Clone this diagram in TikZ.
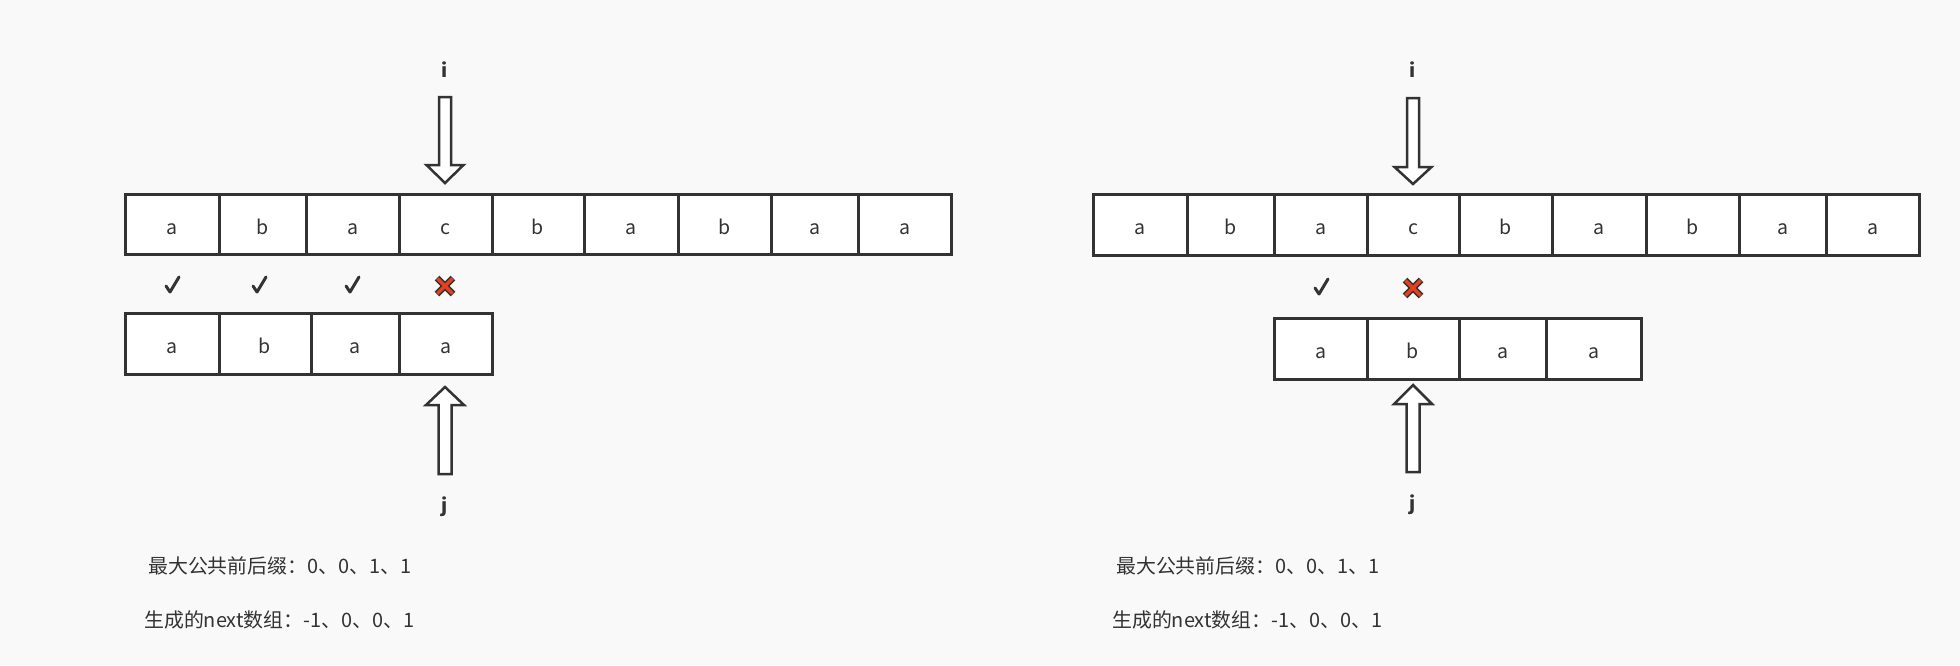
\documentclass[tikz,border=0pt]{standalone}
\usepackage{fontspec}
\setmainfont{Noto Sans CJK SC}
\definecolor{bg}{HTML}{F9F9F9}
\definecolor{ink}{HTML}{333333}
\definecolor{xred}{HTML}{E8401C}
\begin{document}
\begin{tikzpicture}[x=1pt,y=-1pt,
  cell/.style={draw=ink,fill=white,line width=3pt,inner sep=0pt,text=ink,text height=20pt,text depth=0pt,font=\fontsize{19.5}{19.5}\selectfont},
  lbl/.style={text=ink,font=\bfseries\fontsize{19}{19}\selectfont,inner sep=0pt},
  note/.style={text=ink,font=\fontsize{19.9}{19.9}\selectfont,inner sep=0pt,anchor=west},
  blockarrow/.style={draw=ink,fill=white,line width=2.5pt,line join=miter},
  chk/.pic={\draw[ink,line width=3pt,line cap=round,line join=round] (-6,1) -- (-2,7) -- (7,-8);},
  crs/.pic={\draw[ink,line width=6.5pt] (-8,-8) -- (8,8) (-8,8) -- (8,-8);
            \draw[xred,line width=3.5pt] (-7.5,-7.5) -- (7.5,7.5) (-7.5,7.5) -- (7.5,-7.5);}
]
\fill[bg] (0,0) rectangle (1960,665);
\useasboundingbox (0,0) rectangle (1960,665);

% ---------- helper: cell from left/right/top/bottom ----------
\def\cellat#1#2#3#4#5#6{% name, left, right, top, bottom, text
  \node[cell,minimum width={#3-#2},minimum height={#5-#4}] (#1) at ({(#2+#3)/2},{(#4+#5)/2}) {#6};}

% ================= LEFT PANEL =================
\cellat{LT1}{125}{219}{194}{254}{a}
\cellat{LT2}{219}{306}{194}{254}{b}
\cellat{LT3}{306}{399}{194}{254}{a}
\cellat{LT4}{399}{492}{194}{254}{c}
\cellat{LT5}{492}{584}{194}{254}{b}
\cellat{LT6}{584}{678}{194}{254}{a}
\cellat{LT7}{678}{771}{194}{254}{b}
\cellat{LT8}{771}{858}{194}{254}{a}
\cellat{LT9}{858}{951}{194}{254}{a}

\cellat{LB1}{125}{219}{313}{374}{a}
\cellat{LB2}{219}{311}{313}{374}{b}
\cellat{LB3}{311}{399}{313}{374}{a}
\cellat{LB4}{399}{492}{313}{374}{a}

\pic at (172,285) {chk};
\pic at (259,285) {chk};
\pic at (352,285) {chk};
\pic at (445,286) {crs};

\node[lbl] (Li) at (445,70) {i};
\node[lbl] (Lj) at (445,507) {j};

% down arrow i
\coordinate (Lda) at (445,97);
\draw[blockarrow] ([xshift=-6]Lda) -- ++(0,68) -- ++(-12.5,0) -- ++(18.5,18) -- ++(18.5,-18) -- ++(-12.5,0) -- ++(0,-68) -- cycle;
% up arrow j
\coordinate (Lua) at (445,474);
\draw[blockarrow] ([xshift=-6.5]Lua) -- ++(0,-69) -- ++(-12.5,0) -- ++(19,-18) -- ++(19,18) -- ++(-12.5,0) -- ++(0,69) -- cycle;

\node[note] (Ln1) at (148,566) {最大公共前后缀：0、0、1、1};
\node[note] (Ln2) at (144,620) {生成的next数组：-1、0、0、1};

% ================= RIGHT PANEL =================
\cellat{RT1}{1093}{1187}{194}{255}{a}
\cellat{RT2}{1187}{1274}{194}{255}{b}
\cellat{RT3}{1274}{1367}{194}{255}{a}
\cellat{RT4}{1367}{1459}{194}{255}{c}
\cellat{RT5}{1459}{1552}{194}{255}{b}
\cellat{RT6}{1552}{1646}{194}{255}{a}
\cellat{RT7}{1646}{1739}{194}{255}{b}
\cellat{RT8}{1739}{1826}{194}{255}{a}
\cellat{RT9}{1826}{1919}{194}{255}{a}

\cellat{RB1}{1274}{1367}{318}{379}{a}
\cellat{RB2}{1367}{1459}{318}{379}{b}
\cellat{RB3}{1459}{1546}{318}{379}{a}
\cellat{RB4}{1546}{1641}{318}{379}{a}

\pic at (1321,287) {chk};
\pic at (1413,288) {crs};

\node[lbl] (Ri) at (1413,70) {i};
\node[lbl] (Rj) at (1413,505) {j};

\coordinate (Rda) at (1413,98);
\draw[blockarrow] ([xshift=-6]Rda) -- ++(0,69) -- ++(-12.5,0) -- ++(18.5,17) -- ++(18.5,-17) -- ++(-12.5,0) -- ++(0,-69) -- cycle;
\coordinate (Rua) at (1413,472);
\draw[blockarrow] ([xshift=-6.5]Rua) -- ++(0,-68) -- ++(-12.5,0) -- ++(19,-19) -- ++(19,19) -- ++(-12.5,0) -- ++(0,68) -- cycle;

\node[note] (Rn1) at (1116,566) {最大公共前后缀：0、0、1、1};
\node[note] (Rn2) at (1112,620) {生成的next数组：-1、0、0、1};
\end{tikzpicture}
\end{document}
